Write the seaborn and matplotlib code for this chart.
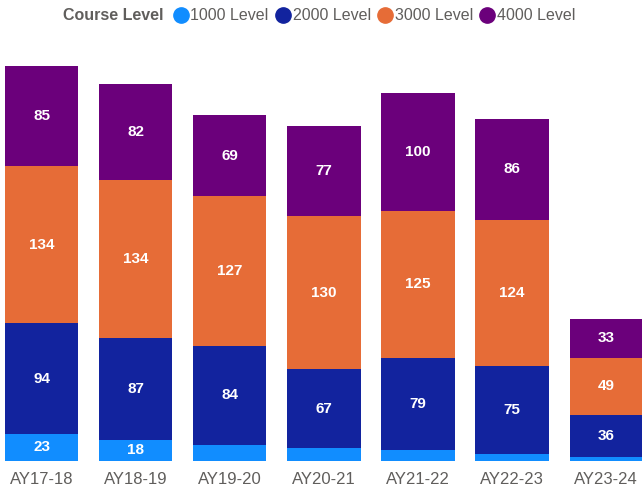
import numpy as np
import pandas as pd
import matplotlib.pyplot as plt
from matplotlib.lines import Line2D
import seaborn as sns

# data
years = ["AY17-18", "AY18-19", "AY19-20", "AY20-21", "AY21-22", "AY22-23", "AY23-24"]
level_1000 = [23, 18, 14, 11, 9, 6, 3]
level_2000 = [94, 87, 84, 67, 79, 75, 36]
level_3000 = [134, 134, 127, 130, 125, 124, 49]
level_4000 = [85, 82, 69, 77, 100, 86, 33]

levels = ["1000 Level", "2000 Level", "3000 Level", "4000 Level"]
colors = ["#118DFF", "#12239E", "#E66C37", "#6B007B"]

df = pd.DataFrame({"year": years, "1000 Level": level_1000, "2000 Level": level_2000,
                   "3000 Level": level_3000, "4000 Level": level_4000})

sns.set_style("white")
plt.rcParams["font.family"] = ["Liberation Sans", "DejaVu Sans"]

fig = plt.figure(figsize=(6.42, 4.91), dpi=100)
ax = fig.add_axes([0, 30 / 491, 1, 411 / 491])

bottom = np.zeros(len(years))
for lvl, col in zip(levels, colors):
    sns.barplot(data=df, x="year", y=lvl, color=col, saturation=1, width=0.78,
                errorbar=None, bottom=bottom, ax=ax, linewidth=0)
    for i, v in enumerate(df[lvl]):
        if v >= 15:
            ax.text(i, bottom[i] + v / 2, str(v), ha="center", va="center",
                    color="white", fontsize=11, fontweight="bold")
    bottom = bottom + df[lvl].values

ax.set_xlim(-0.441, 6.38)
ax.set_ylim(0, 349.5)
ax.set_xlabel("")
ax.set_ylabel("")
ax.set_yticks([])
ax.tick_params(axis="x", length=0, pad=8, labelsize=12, labelcolor="#605E5C")
sns.despine(ax=ax, left=True, bottom=True)

# legend
fig.text(63 / 642, 1 - 16 / 491, "Course Level", ha="left", va="center",
         fontsize=11.5, fontweight="bold", color="#605E5C")
handles = [Line2D([], [], marker="o", linestyle="", markersize=11, color=c) for c in colors]
fig.legend(handles, levels, loc="center left", bbox_to_anchor=(172 / 642, 1 - 16 / 491),
           ncol=4, frameon=False, fontsize=11.5, handletextpad=0.05, columnspacing=0.35,
           handlelength=1.1, borderaxespad=0, borderpad=0, labelcolor="#605E5C")

fig.savefig("out.png", dpi=100)
